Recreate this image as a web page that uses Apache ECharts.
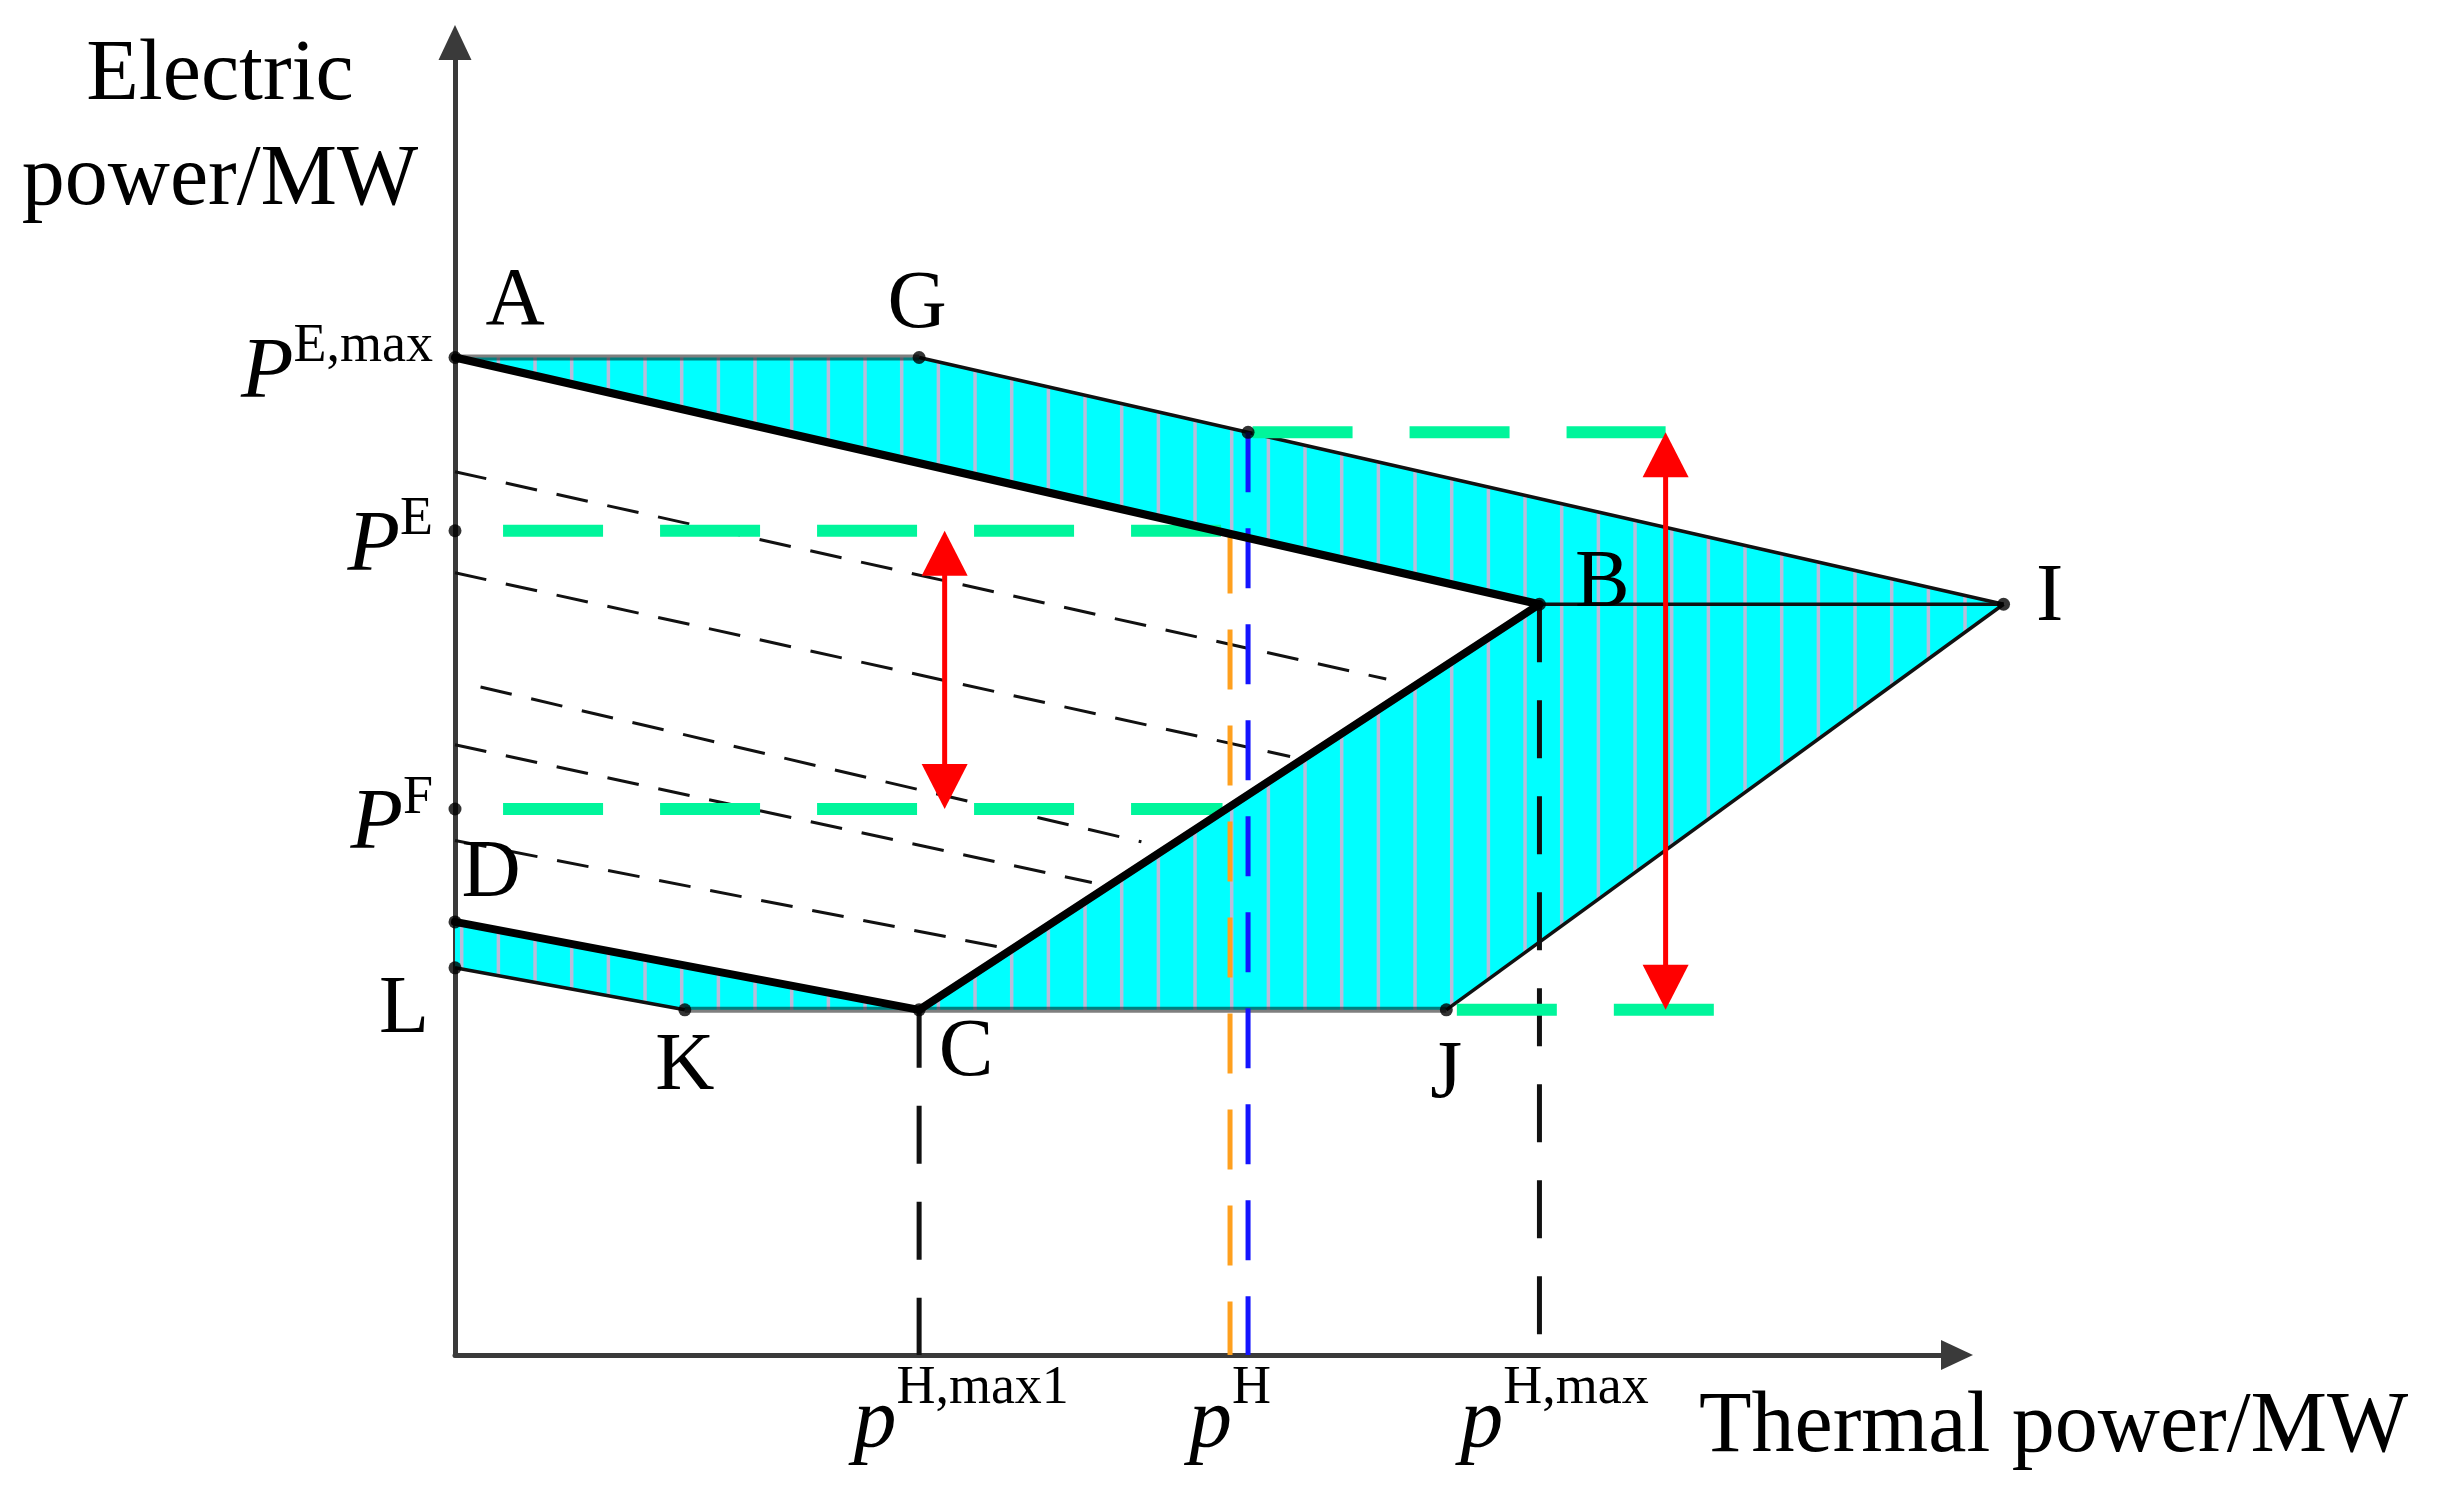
<!DOCTYPE html>
<html><head><meta charset="utf-8">
<script src="https://cdn.jsdelivr.net/npm/echarts@6/dist/echarts.min.js"></script>
<style>html,body{margin:0;padding:0;background:#fff}#c{width:2441px;height:1506px}</style>
</head><body><div id="c"></div>
<script>
// ================= DATA (x = thermal power, y = electric power, arbitrary units) =================
const pointNames = ['A', 'G', 'T', 'I', 'B', 'J', 'C', 'K', 'L', 'D'];
const pointX     = [0,   30.9, 52.8, 103.1, 72.2, 66.0, 30.9, 15.3, 0,    0];
const pointY     = [76.0, 76.0, 70.3, 57.2, 57.2, 26.3, 26.3, 26.3, 29.5, 33.0];

const upperRegion = ['A', 'G', 'I', 'J', 'C', 'B'];
const lowerRegion = ['D', 'C', 'K', 'L'];
const labelledPoints = ['A', 'G', 'B', 'I', 'C', 'J', 'K', 'L', 'D'];

const boldEdges = [['A', 'B'], ['B', 'C'], ['D', 'C']];
const thinEdges = [['G', 'I'], ['I', 'J'], ['L', 'K'], ['B', 'I']];
const greyEdges = [['A', 'G'], ['K', 'J']];

const xTickValues = [30.9, 51.6, 72.2];
const xTickSup    = ['H,max1', 'H', 'H,max'];
const yTickValues = [76.0, 62.8, 41.6, 33.0];
const yTickSup    = ['E,max', 'E', 'F', 'E,min'];
const axisDotY    = [62.8, 41.6];

// thin black dashed guide lines
const guideStartX = [0, 0, 1.7, 0, 0];
const guideStartY = [67.3, 59.6, 50.9, 46.5, 39.2];
const guideEndX   = [62.0, 55.6, 45.7, 42.4, 36.6];
const guideEndY   = [51.5, 45.6, 39.1, 36.0, 31.0];

// green dashed levels
const levelY     = [62.8, 41.6, 70.3, 26.3];
const levelFromX = [3.2, 3.2, 53.1, 66.7];
const levelToX   = [51.0, 51.1, 80.6, 84.0];

// vertical projections: black (C), black (B), orange (p^H), blue
const projX    = [30.9, 72.2, 51.6, 52.8];
const projTopY = [26.3, 57.2, 62.6, 70.3];

// red double arrows
const arrowX       = [32.6, 80.6];
const arrowTopY    = [62.8, 70.3];
const arrowBottomY = [41.6, 26.3];

// ================= STYLE =================
const SERIF = '"Liberation Serif", "Times New Roman", serif';
const pointLabelOffset = {A: [60, -55], G: [-2, -52], B: [63, -20], I: [46, -6], C: [47, 44], J: [0, 66], K: [0, 58], L: [-51, 43], D: [36, -47]};
const projColors = ['#111', '#111', '#FFA01E', '#1414FF'];
const xLabelShift = [84, 0, 30];

function makeHatch() {
  const c = document.createElement('canvas');
  c.width = 110; c.height = 4;
  const g = c.getContext('2d');
  g.fillStyle = '#00FFFF'; g.fillRect(0, 0, 110, 4);
  g.fillStyle = '#B9BCDA';
  [21.7, 58.37, 95.03].forEach(x => g.fillRect(x - 1.75, 0, 3.5, 4));
  return c;
}
const hatch = {image: makeHatch(), repeat: 'repeat'};

const P = n => { const i = pointNames.indexOf(n); return [pointX[i], pointY[i]]; };
const nearest = (arr, v) => { let b = 0; arr.forEach((a, i) => { if (Math.abs(a - v) < Math.abs(arr[b] - v)) b = i; }); return b; };

function segmentSeries(segs, style, z) {
  return {
    type: 'custom', coordinateSystem: 'cartesian2d', silent: true, z: z,
    data: segs.map(s => [s[0][0], s[0][1], s[1][0], s[1][1], s[2] || 0]),
    encode: {x: [0, 2], y: [1, 3]},
    renderItem: (params, api) => {
      const a = api.coord([api.value(0), api.value(1)]);
      const b = api.coord([api.value(2), api.value(3)]);
      const st = typeof style === 'function' ? style(api.value(4)) : style;
      return {type: 'line', shape: {x1: a[0], y1: a[1], x2: b[0], y2: b[1]}, style: Object.assign({fill: null}, st)};
    }
  };
}

const regions = [upperRegion, lowerRegion];
const series = [];

// hatched cyan regions
series.push({
  type: 'custom', coordinateSystem: 'cartesian2d', silent: true, z: 1,
  data: regions.map((r, i) => [P(r[0])[0], P(r[0])[1], i]),
  encode: {x: 0, y: 1},
  renderItem: (params, api) => {
    const r = regions[api.value(2)];
    return {type: 'polygon', shape: {points: r.map(n => api.coord(P(n)))}, style: {fill: hatch, stroke: null}};
  }
});

// guides
series.push(segmentSeries(guideStartX.map((x, i) => [[x, guideStartY[i]], [guideEndX[i], guideEndY[i]]]),
  {stroke: '#111', lineWidth: 3, lineDash: [32, 20]}, 2));

// edges
series.push(segmentSeries(greyEdges.map(e => [P(e[0]), P(e[1])]), {stroke: 'rgba(0,0,0,0.5)', lineWidth: 6}, 3));
series.push(segmentSeries(thinEdges.map(e => [P(e[0]), P(e[1])]), {stroke: '#111', lineWidth: 3.5}, 3));

// vertical projections
series.push(segmentSeries(projX.map((x, i) => [[x, projTopY[i]], [x, 0], i]),
  i => ({stroke: projColors[i], lineWidth: 5, lineDash: i < 2 ? [58, 38] : [60, 36]}), 4));

// green levels
series.push(segmentSeries(levelY.map((y, i) => [[levelFromX[i], y], [levelToX[i], y]]),
  {stroke: '#00F59B', lineWidth: 12, lineDash: [100, 57]}, 5));

// bold edges
series.push(segmentSeries(boldEdges.map(e => [P(e[0]), P(e[1])]), {stroke: '#000', lineWidth: 8, lineCap: 'round'}, 6));

// red double arrows
series.push({
  type: 'custom', coordinateSystem: 'cartesian2d', silent: true, z: 7,
  data: arrowX.map((x, i) => [x, arrowTopY[i], x, arrowBottomY[i]]),
  encode: {x: [0, 2], y: [1, 3]},
  renderItem: (params, api) => {
    const a = api.coord([api.value(0), api.value(1)]);
    const b = api.coord([api.value(2), api.value(3)]);
    const L = 45, W = 46;
    return {type: 'group', children: [
      {type: 'line', shape: {x1: a[0], y1: a[1] + L - 2, x2: b[0], y2: b[1] - L + 2}, style: {stroke: '#FF0000', lineWidth: 5}},
      {type: 'polygon', shape: {points: [[a[0], a[1]], [a[0] - W / 2, a[1] + L], [a[0] + W / 2, a[1] + L]]}, style: {fill: '#FF0000'}},
      {type: 'polygon', shape: {points: [[b[0], b[1]], [b[0] - W / 2, b[1] - L], [b[0] + W / 2, b[1] - L]]}, style: {fill: '#FF0000'}}
    ]};
  }
});

// dots
series.push({
  type: 'scatter', clip: false, silent: true, z: 8, symbol: 'circle', symbolSize: 13,
  itemStyle: {color: '#000'},
  data: pointX.map((x, i) => [x, pointY[i]]).concat(axisDotY.map(y => [0, y]))
});

// point letters
series.push({
  type: 'custom', coordinateSystem: 'cartesian2d', silent: true, z: 9,
  data: labelledPoints.map((n, i) => [P(n)[0], P(n)[1], i]),
  encode: {x: 0, y: 1},
  renderItem: (params, api) => {
    const n = labelledPoints[api.value(2)];
    const c = api.coord([api.value(0), api.value(1)]);
    const o = pointLabelOffset[n];
    return {type: 'text', x: c[0] + o[0], y: c[1] + o[1],
      style: {text: n, fill: '#000', font: '82px ' + SERIF, align: 'center', verticalAlign: 'middle'}};
  }
});

const xRich = {s: {fontFamily: SERIF, fontSize: 54, color: '#000', verticalAlign: 'top'}};
xLabelShift.forEach((p, i) => {
  xRich['p' + i] = {fontFamily: SERIF, fontStyle: 'italic', fontSize: 86, color: '#000', verticalAlign: 'bottom', padding: [0, 0, 0, p]};
});

const option = {
  backgroundColor: '#fff',
  animation: false,
  grid: {left: 455, top: 42.5, right: 484, bottom: 151, containLabel: false, outerBoundsMode: 'none'},
  xAxis: {
    type: 'value', min: 0, max: 100,
    name: '{t|Thermal power/MW}', nameLocation: 'end', nameGap: -258, nameMoveOverlap: false,
    nameTextStyle: {
      fontFamily: SERIF, fontSize: 86, color: '#000',
      rich: {t: {fontFamily: SERIF, fontSize: 86, color: '#000', padding: [146, 0, 0, 0]}}
    },
    axisLine: {show: true, symbol: ['none', 'triangle'], symbolSize: [30, 32], lineStyle: {color: '#3a3a3a', width: 5}},
    axisTick: {show: false}, splitLine: {show: false},
    axisLabel: {
      show: true, customValues: xTickValues, margin: 7, lineHeight: 104,
      formatter: v => { const i = nearest(xTickValues, v); return '{p' + i + '|p}{s|' + xTickSup[i] + '}'; },
      rich: xRich
    }
  },
  yAxis: {
    type: 'value', min: 0, max: 100,
    name: 'Electric\npower/MW', nameLocation: 'end', nameGap: -191, nameMoveOverlap: false,
    nameTextStyle: {fontFamily: SERIF, fontSize: 86, lineHeight: 105, color: '#000', padding: [0, 470, 0, 0]},
    axisLine: {show: true, symbol: ['none', 'triangle'], symbolSize: [33, 35], lineStyle: {color: '#3a3a3a', width: 5}},
    axisTick: {show: false}, splitLine: {show: false},
    axisLabel: {
      show: true, customValues: yTickValues, margin: 22, lineHeight: 97, padding: [22, 0, 0, 0],
      formatter: v => { const i = nearest(yTickValues, v); return '{P|P}{s|' + yTickSup[i] + '}'; },
      rich: {
        P: {fontFamily: SERIF, fontStyle: 'italic', fontSize: 86, color: '#000', verticalAlign: 'bottom'},
        s: {fontFamily: SERIF, fontSize: 54, color: '#000', verticalAlign: 'top'}
      }
    }
  },
  series: series
};

const chart = echarts.init(document.getElementById('c'), null, {renderer: 'canvas'});
chart.setOption(option);
</script>
</body></html>
